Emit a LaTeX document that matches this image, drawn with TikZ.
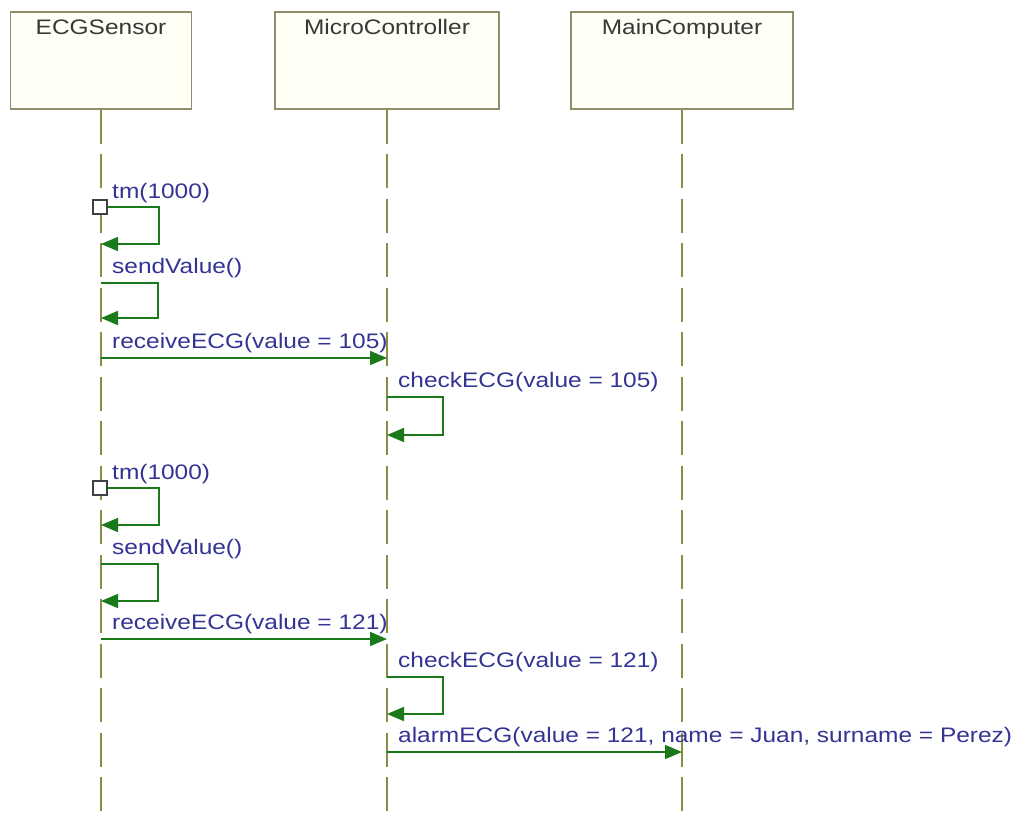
\documentclass[tikz,border=0pt]{standalone}
\usepackage{fontspec}
\setmainfont{Liberation Sans}[FakeStretch=1.165]
\usetikzlibrary{arrows.meta,positioning}
\definecolor{seqLine}{HTML}{8C8C46}
\definecolor{seqBox}{HTML}{8E8E6C}
\definecolor{seqFill}{HTML}{FFFFF5}
\definecolor{seqInk}{HTML}{343494}
\definecolor{seqHead}{HTML}{383838}
\definecolor{seqGreen}{HTML}{1A7A1A}

\begin{document}
\begin{tikzpicture}[x=1pt,y=-1pt,>={Triangle[length=17pt,width=14pt]},line join=miter]
\path[fill=white] (0,0) rectangle (1017,814);
\tikzset{obj/.style={draw=seqBox,fill=seqFill,line width=1.6pt,minimum height=97pt,inner sep=0pt},objname/.style={text=seqHead,font=\fontsize{21}{24}\selectfont,anchor=north,inner sep=0pt},life/.style={draw=seqLine,line width=1.5pt,dash pattern=on 34pt off 10.5pt},msg/.style={draw=seqGreen,line width=1.6pt,->},call/.style={text=seqInk,font=\fontsize{21}{24}\selectfont,anchor=base west,inner sep=0pt},timer/.style={draw=black!75,fill=white,line width=1.4pt,minimum size=14pt,inner sep=0pt}}
% objects
\node[obj,minimum width=181pt] (sensor) at (101,60.5) {};
\node[obj,minimum width=224pt] (micro) at (387,60.5) {};
\node[obj,minimum width=222pt] (main) at (682,60.5) {};
\node[objname] (sensorName) at ([yshift=-8pt]sensor.north) {ECGSensor};
\node[objname] (microName) at ([yshift=-8pt]micro.north) {MicroController};
\node[objname] (mainName) at ([yshift=-8pt]main.north) {MainComputer};
% lifelines
\coordinate (sensorEnd) at (sensor.south |- 0,814);
\coordinate (microEnd) at (micro.south |- 0,814);
\coordinate (mainEnd) at (main.south |- 0,814);
\draw[life] (sensor.south) -- (sensorEnd);
\draw[life] (micro.south) -- (microEnd);
\draw[life] (main.south) -- (mainEnd);
% first reading
\node[timer] (tmA) at (100,207) {};
\node[call] (tmAlbl) at (112,198) {tm(1000)};
\coordinate (tmAend) at (sensorEnd |- 0,244);
\draw[msg] (tmA.east) -- ++(51,0) |- (tmAend);
\node[call] (svAlbl) at (112,273) {sendValue()};
\coordinate (svA) at (sensorEnd |- 0,283);
\coordinate (svAend) at (sensorEnd |- 0,318);
\draw[msg] (svA) -- ++(57,0) |- (svAend);
\node[call] (rcAlbl) at (112,348) {receiveECG(value = 105)};
\coordinate (rcA) at (sensorEnd |- 0,358);
\coordinate (rcAend) at (microEnd |- 0,358);
\draw[msg] (rcA) -- (rcAend);
\node[call] (ckAlbl) at (398,387) {checkECG(value = 105)};
\coordinate (ckA) at (microEnd |- 0,397);
\coordinate (ckAend) at (microEnd |- 0,435);
\draw[msg] (ckA) -- ++(56,0) |- (ckAend);
% second reading
\node[timer] (tmB) at (100,488) {};
\node[call] (tmBlbl) at (112,479) {tm(1000)};
\coordinate (tmBend) at (sensorEnd |- 0,525);
\draw[msg] (tmB.east) -- ++(51,0) |- (tmBend);
\node[call] (svBlbl) at (112,554) {sendValue()};
\coordinate (svB) at (sensorEnd |- 0,564);
\coordinate (svBend) at (sensorEnd |- 0,601);
\draw[msg] (svB) -- ++(57,0) |- (svBend);
\node[call] (rcBlbl) at (112,629) {receiveECG(value = 121)};
\coordinate (rcB) at (sensorEnd |- 0,639);
\coordinate (rcBend) at (microEnd |- 0,639);
\draw[msg] (rcB) -- (rcBend);
\node[call] (ckBlbl) at (398,667) {checkECG(value = 121)};
\coordinate (ckB) at (microEnd |- 0,677);
\coordinate (ckBend) at (microEnd |- 0,714);
\draw[msg] (ckB) -- ++(56,0) |- (ckBend);
% alarm
\node[call] (alLbl) at (398,742) {alarmECG(value = 121, name = Juan, surname = Perez)};
\coordinate (al) at (microEnd |- 0,752);
\coordinate (alEnd) at (mainEnd |- 0,752);
\draw[msg] (al) -- (alEnd);
\end{tikzpicture}
\end{document}
